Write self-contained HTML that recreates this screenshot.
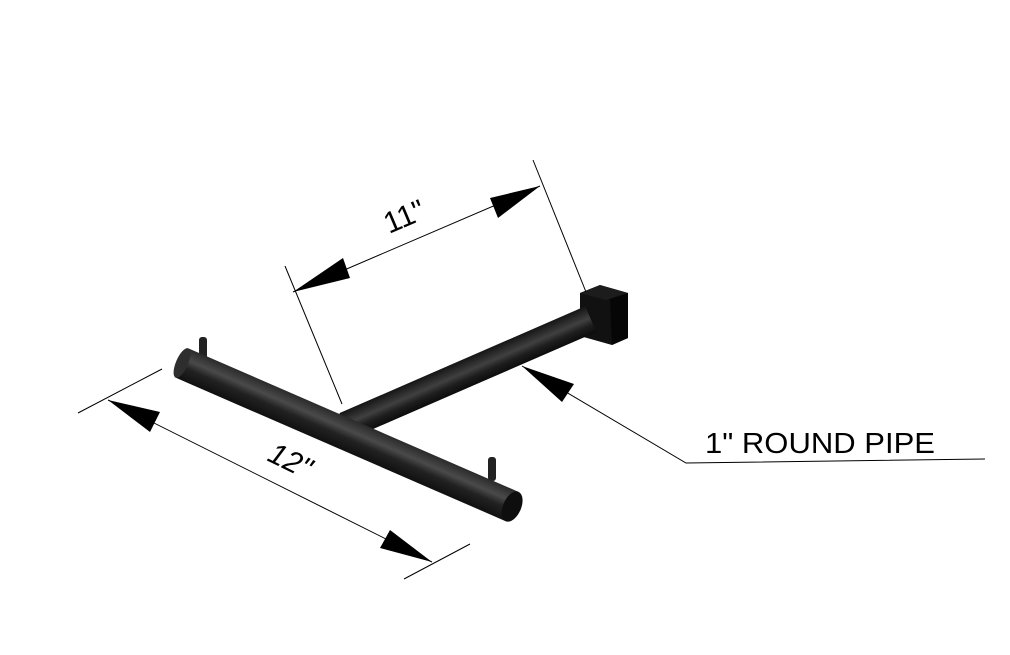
<!DOCTYPE html>
<html><head><meta charset="utf-8"><style>
html,body{margin:0;padding:0;background:#fff;width:1010px;height:655px;overflow:hidden}
svg{display:block}
text{font-family:"Liberation Sans",Arial,sans-serif;fill:#000}
</style></head><body>
<svg width="1010" height="655" viewBox="0 0 1010 655" xmlns="http://www.w3.org/2000/svg">
<defs>
<linearGradient id="g1" gradientUnits="userSpaceOnUse" x1="0" y1="-16" x2="0" y2="16">
<stop offset="0" stop-color="#2a2a2a"/><stop offset="0.35" stop-color="#4a4a4a"/><stop offset="0.6" stop-color="#222"/><stop offset="1" stop-color="#101010"/>
</linearGradient>
<linearGradient id="g2" gradientUnits="userSpaceOnUse" x1="0" y1="-14" x2="0" y2="14">
<stop offset="0" stop-color="#151515"/><stop offset="0.45" stop-color="#404040"/><stop offset="0.7" stop-color="#1e1e1e"/><stop offset="1" stop-color="#0c0c0c"/>
</linearGradient>
</defs>

<polygon points="580,293 600,285 628,293 628,338 612,345 580,336" fill="#111"/>
<polygon points="608,292 628,293 628,338 612,345 610,300" fill="#060606"/>
<polygon points="580,293 600,285 628,293 606,300" fill="#1c1c1c"/>

<g transform="translate(345,426) rotate(-23.5)">
<rect x="0" y="-14" width="268" height="28" fill="url(#g2)"/>
</g>

<rect x="199" y="337" width="8" height="22" rx="3" fill="#222"/>
<rect x="488" y="457" width="8" height="24" rx="3" fill="#222"/>

<g transform="translate(182,363) rotate(23.5)">
<rect x="0" y="-16" width="360" height="32" fill="url(#g1)"/>
<ellipse cx="0" cy="0" rx="6" ry="16" fill="#2e2e2e"/>
<ellipse cx="360" cy="0" rx="9" ry="16" fill="#0e0e0e"/>
</g>

<g stroke="#000" stroke-width="1" fill="none">
<line x1="285" y1="266" x2="342" y2="404"/>
<line x1="533" y1="160" x2="586" y2="292"/>
<line x1="293" y1="292" x2="540" y2="186"/>
<line x1="78" y1="413" x2="162" y2="369"/>
<line x1="404" y1="579" x2="470" y2="544"/>
<line x1="108" y1="400" x2="432" y2="562"/>
<polyline points="522,366 686,463 985,459"/>
</g>
<g fill="#000">
<polygon points="293,292 343,258 350,278"/>
<polygon points="540,186 490,198 498,218"/>
<polygon points="108,400 160,412 150,432"/>
<polygon points="432,562 380,548 390,530"/>
<polygon points="522,366 574,384 562,402"/>
</g>
<text x="0" y="0" font-size="30" transform="translate(389,234) rotate(-23)">11"</text>
<text x="0" y="0" font-size="30" transform="translate(266,460) rotate(26)" font-style="italic">12"</text>
<text x="705" y="453" font-size="29" textLength="230" lengthAdjust="spacingAndGlyphs">1" ROUND PIPE</text>
</svg>
</body></html>
